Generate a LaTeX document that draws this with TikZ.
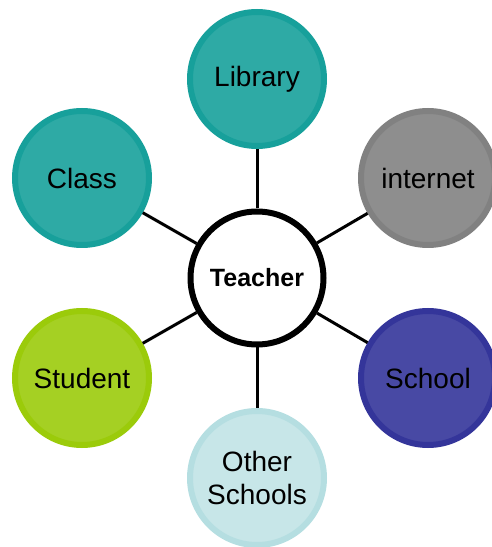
\documentclass[tikz,border=0pt]{standalone}
\usepackage{fontspec}
\setmainfont{Liberation Sans}
\usetikzlibrary{positioning}

\definecolor{tealring}{HTML}{17A09B}
\definecolor{greyring}{HTML}{818181}
\definecolor{navyring}{HTML}{34359A}
\definecolor{limering}{HTML}{9BCB0A}
\definecolor{paleblue}{HTML}{B5DEE1}

\begin{document}
\begin{tikzpicture}[x=1pt, y=1pt, every node/.style={font=\fontsize{28}{33}\selectfont},
  topic/.style={circle, draw=#1, fill=#1!90!white, line width=6pt, minimum size=134pt, inner sep=0pt, align=center},
  spoke/.style={line width=3pt}]
\useasboundingbox (0,0) rectangle (491,547);

\node[circle, draw, line width=6pt, fill=white, minimum size=133pt, font=\fontsize{25}{30}\selectfont\bfseries] (tch) at (257,269) {Teacher};
\node[topic=tealring] (lib) at (257,468) {Library};
\node[topic=tealring] (cls) at (82,369) {Class};
\node[topic=greyring] (net) at (428,369) {internet};
\node[topic=limering] (stu) at (82,169) {Student};
\node[topic=navyring] (sch) at (428,169) {School};
\node[topic=paleblue, fill=paleblue!75!white] (oth) at (257,69) {Other\\Schools};

% spokes from the centre out to every ring
\foreach \t in {lib,cls,net,stu,sch,oth}
  \draw[spoke] (tch) -- (\t);
\end{tikzpicture}
\end{document}
